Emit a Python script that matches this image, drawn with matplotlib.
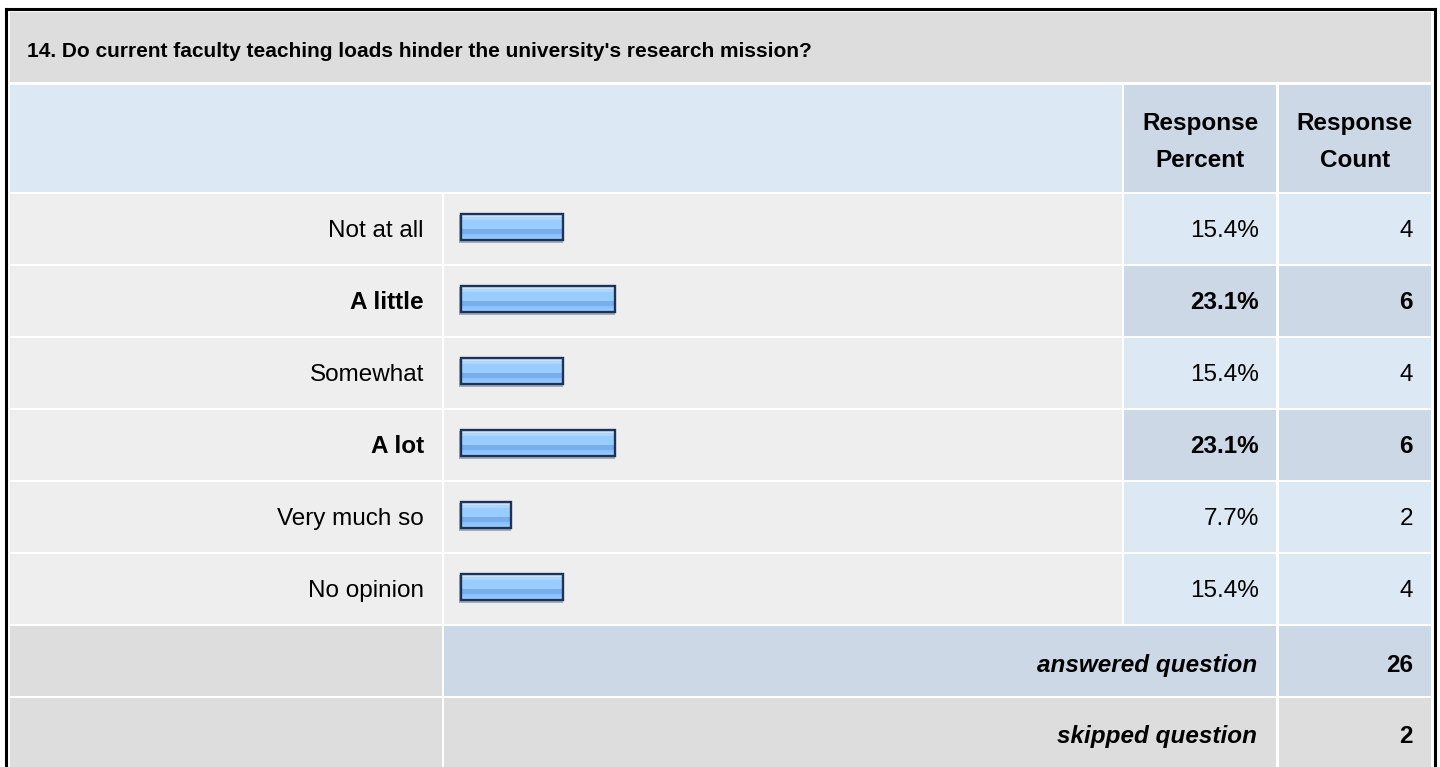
import numpy as np
import matplotlib
matplotlib.use('Agg')
import matplotlib.pyplot as plt
from matplotlib.patches import Rectangle

plt.rcParams['font.family'] = ['Liberation Sans', 'DejaVu Sans']

question = "14. Do current faculty teaching loads hinder the university's research mission?"
answers = ['Not at all', 'A little', 'Somewhat', 'A lot', 'Very much so', 'No opinion']
percents = [15.4, 23.1, 15.4, 23.1, 7.7, 15.4]
counts = [4, 6, 4, 6, 2, 4]
answered = 26
skipped = 2

# colours
GRAY = '#DDDDDD'
ROW_GRAY = '#EEEEEE'
BLUE_LIGHT = '#DDE8F5'
BLUE_DARK = '#CCD8E6'

W, H = 1440, 767
fig = plt.figure(figsize=(W / 100, H / 100), dpi=100)
ax = fig.add_axes([0, 0, 1, 1])
ax.set_xlim(0, W)
ax.set_ylim(H, 0)
ax.axis('off')


def cell(x0, y0, x1, y1, color):
    ax.add_patch(Rectangle((x0, y0), x1 - x0, y1 - y0, facecolor=color, edgecolor='none', zorder=1))


# column edges (pixels)
c_lab = (10, 442)
c_bar = (444, 1122)
c_pct = (1124, 1276)
c_cnt = (1279, 1431)
fs = 17.5

# title row
cell(10, 12, 1431, 82, GRAY)
ax.text(27, 57, question, fontsize=15, fontweight='bold', va='baseline', ha='left', zorder=3)

# header row
cell(10, 85, 1122, 192, BLUE_LIGHT)
cell(c_pct[0], 85, c_pct[1], 192, BLUE_DARK)
cell(c_cnt[0], 85, c_cnt[1], 192, BLUE_DARK)
for cx, word in [((c_pct[0] + c_pct[1]) / 2, 'Percent'), ((c_cnt[0] + c_cnt[1]) / 2, 'Count')]:
    ax.text(cx, 130, 'Response', fontsize=fs, fontweight='bold', ha='center', va='baseline', zorder=3)
    ax.text(cx, 167, word, fontsize=fs, fontweight='bold', ha='center', va='baseline', zorder=3)

# answer rows
counts_arr = np.array(counts)
highlight = counts_arr == counts_arr.max()
row_top = 194 + 72 * np.arange(len(answers))
row_base = row_top + 43
for i, ans in enumerate(answers):
    t = row_top[i]
    b = t + 70
    shade = BLUE_DARK if highlight[i] else BLUE_LIGHT
    cell(c_lab[0], t, c_lab[1], b, ROW_GRAY)
    cell(c_bar[0], t, c_bar[1], b, ROW_GRAY)
    cell(c_pct[0], t, c_pct[1], b, shade)
    cell(c_cnt[0], t, c_cnt[1], b, shade)
    wt = 'bold' if highlight[i] else 'normal'
    ax.text(424, row_base[i], ans, fontsize=fs, fontweight=wt, ha='right', va='baseline', zorder=3)
    ax.text(1259, row_base[i], f'{percents[i]:.1f}%', fontsize=fs, fontweight=wt, ha='right', va='baseline', zorder=3)
    ax.text(1413, row_base[i], str(counts[i]), fontsize=fs, fontweight=wt, ha='right', va='baseline', zorder=3)

# bars
px_per_pct = 104 / 15.4
widths = np.array(percents) * px_per_pct
bar_left = 460
bar_h = 28
bar_c = row_top + 33
ax.barh(bar_c + 1.5, widths, left=bar_left - 1, height=bar_h, color='#A3ADBB', zorder=4)
stripes = [(2, 4.3, '#C7E3FF'), (4.3, 6.7, '#AFD5FF'), (6.7, 16, '#9ACDFF'),
           (16, 20.7, '#78AEEE'), (20.7, 23.7, '#8BC2FF'), (23.7, 26.5, '#9ACDFF')]
bar_top = bar_c - bar_h / 2
for y0, y1, col in stripes:
    ax.barh(bar_top + (y0 + y1) / 2, widths - 4, left=bar_left + 2, height=y1 - y0,
            color=col, linewidth=0, zorder=5)
ax.barh(bar_c, widths - 2, left=bar_left + 1, height=bar_h - 2, fill=False,
        edgecolor='#1D3458', linewidth=1.7, zorder=6)

# footer rows
ft = 626
cell(c_lab[0], ft, c_lab[1], ft + 70, GRAY)
cell(c_bar[0], ft, c_pct[1], ft + 70, BLUE_DARK)
cell(c_cnt[0], ft, c_cnt[1], ft + 70, BLUE_DARK)
ax.text(1257, ft + 46, 'answered question', fontsize=fs, fontweight='bold', style='italic',
        ha='right', va='baseline', zorder=3)
ax.text(1413, ft + 46, str(answered), fontsize=fs, fontweight='bold', ha='right', va='baseline', zorder=3)
st = 698
cell(c_lab[0], st, c_lab[1], H + 5, GRAY)
cell(c_bar[0], st, c_pct[1], H + 5, GRAY)
cell(c_cnt[0], st, c_cnt[1], H + 5, GRAY)
ax.text(1257, st + 45, 'skipped question', fontsize=fs, fontweight='bold', style='italic',
        ha='right', va='baseline', zorder=3)
ax.text(1413, st + 45, str(skipped), fontsize=fs, fontweight='bold', ha='right', va='baseline', zorder=3)

# outer border
ax.plot([5.5, 5.5], [8.5, H + 5], color='black', linewidth=2.2, solid_capstyle='projecting', zorder=7)
ax.plot([5.5, 1434.5], [8.5, 8.5], color='black', linewidth=2.2, solid_capstyle='projecting', zorder=7)
ax.plot([1434.5, 1434.5], [8.5, H + 5], color='black', linewidth=2.2, solid_capstyle='projecting', zorder=7)

fig.savefig('out.png', dpi=100)
